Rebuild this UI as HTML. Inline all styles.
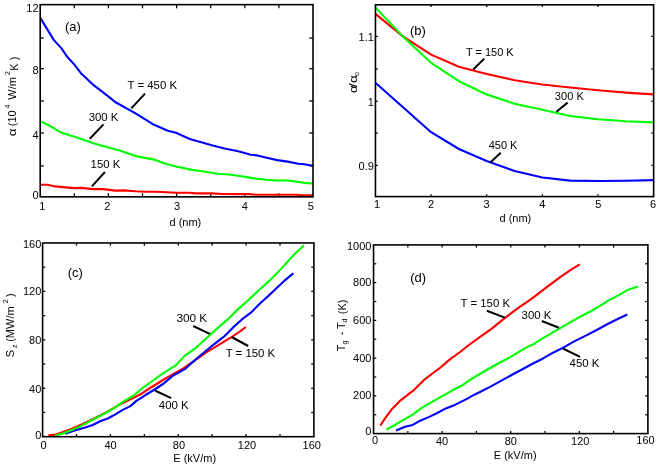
<!DOCTYPE html>
<html><head><meta charset="utf-8"><title>Figure</title>
<style>
html,body{margin:0;padding:0;background:#fff;}
body{width:664px;height:466px;overflow:hidden;}
body{position:relative;}
svg.t{position:absolute;left:0;top:0;will-change:transform;}
svg{display:block;font-family:"Liberation Sans", sans-serif;fill:#000;}
</style></head><body>
<svg width="664" height="466" viewBox="0 0 664 466">
<rect x="0" y="0" width="664" height="466" fill="#fff"/>
<defs><clipPath id="c0"><rect x="40.2" y="4.65" width="272.80" height="192.20"/></clipPath><clipPath id="c1"><rect x="375.45" y="4.8" width="278.20" height="191.80"/></clipPath><clipPath id="c2"><rect x="42.6" y="242.95" width="271.30" height="193.75"/></clipPath><clipPath id="c3"><rect x="373.55" y="244.9" width="274.35" height="188.70"/></clipPath></defs>
<line x1="74.30" y1="196.85" x2="74.30" y2="193.15" stroke="#000" stroke-width="1.25" stroke-linecap="butt"/>
<line x1="74.30" y1="4.65" x2="74.30" y2="8.35" stroke="#000" stroke-width="1.25" stroke-linecap="butt"/>
<line x1="108.40" y1="196.85" x2="108.40" y2="193.15" stroke="#000" stroke-width="1.25" stroke-linecap="butt"/>
<line x1="108.40" y1="4.65" x2="108.40" y2="8.35" stroke="#000" stroke-width="1.25" stroke-linecap="butt"/>
<line x1="142.50" y1="196.85" x2="142.50" y2="193.15" stroke="#000" stroke-width="1.25" stroke-linecap="butt"/>
<line x1="142.50" y1="4.65" x2="142.50" y2="8.35" stroke="#000" stroke-width="1.25" stroke-linecap="butt"/>
<line x1="176.60" y1="196.85" x2="176.60" y2="193.15" stroke="#000" stroke-width="1.25" stroke-linecap="butt"/>
<line x1="176.60" y1="4.65" x2="176.60" y2="8.35" stroke="#000" stroke-width="1.25" stroke-linecap="butt"/>
<line x1="210.70" y1="196.85" x2="210.70" y2="193.15" stroke="#000" stroke-width="1.25" stroke-linecap="butt"/>
<line x1="210.70" y1="4.65" x2="210.70" y2="8.35" stroke="#000" stroke-width="1.25" stroke-linecap="butt"/>
<line x1="244.80" y1="196.85" x2="244.80" y2="193.15" stroke="#000" stroke-width="1.25" stroke-linecap="butt"/>
<line x1="244.80" y1="4.65" x2="244.80" y2="8.35" stroke="#000" stroke-width="1.25" stroke-linecap="butt"/>
<line x1="278.90" y1="196.85" x2="278.90" y2="193.15" stroke="#000" stroke-width="1.25" stroke-linecap="butt"/>
<line x1="278.90" y1="4.65" x2="278.90" y2="8.35" stroke="#000" stroke-width="1.25" stroke-linecap="butt"/>
<line x1="40.20" y1="38.00" x2="43.90" y2="38.00" stroke="#000" stroke-width="1.25" stroke-linecap="butt"/>
<line x1="313.00" y1="38.00" x2="309.30" y2="38.00" stroke="#000" stroke-width="1.25" stroke-linecap="butt"/>
<line x1="40.20" y1="68.70" x2="43.90" y2="68.70" stroke="#000" stroke-width="1.25" stroke-linecap="butt"/>
<line x1="313.00" y1="68.70" x2="309.30" y2="68.70" stroke="#000" stroke-width="1.25" stroke-linecap="butt"/>
<line x1="40.20" y1="101.00" x2="43.90" y2="101.00" stroke="#000" stroke-width="1.25" stroke-linecap="butt"/>
<line x1="313.00" y1="101.00" x2="309.30" y2="101.00" stroke="#000" stroke-width="1.25" stroke-linecap="butt"/>
<line x1="40.20" y1="133.00" x2="43.90" y2="133.00" stroke="#000" stroke-width="1.25" stroke-linecap="butt"/>
<line x1="313.00" y1="133.00" x2="309.30" y2="133.00" stroke="#000" stroke-width="1.25" stroke-linecap="butt"/>
<line x1="40.20" y1="165.90" x2="43.90" y2="165.90" stroke="#000" stroke-width="1.25" stroke-linecap="butt"/>
<line x1="313.00" y1="165.90" x2="309.30" y2="165.90" stroke="#000" stroke-width="1.25" stroke-linecap="butt"/>
<line x1="431.09" y1="196.60" x2="431.09" y2="194.30" stroke="#000" stroke-width="1.25" stroke-linecap="butt"/>
<line x1="431.09" y1="4.80" x2="431.09" y2="7.10" stroke="#000" stroke-width="1.25" stroke-linecap="butt"/>
<line x1="486.73" y1="196.60" x2="486.73" y2="194.30" stroke="#000" stroke-width="1.25" stroke-linecap="butt"/>
<line x1="486.73" y1="4.80" x2="486.73" y2="7.10" stroke="#000" stroke-width="1.25" stroke-linecap="butt"/>
<line x1="542.37" y1="196.60" x2="542.37" y2="194.30" stroke="#000" stroke-width="1.25" stroke-linecap="butt"/>
<line x1="542.37" y1="4.80" x2="542.37" y2="7.10" stroke="#000" stroke-width="1.25" stroke-linecap="butt"/>
<line x1="598.01" y1="196.60" x2="598.01" y2="194.30" stroke="#000" stroke-width="1.25" stroke-linecap="butt"/>
<line x1="598.01" y1="4.80" x2="598.01" y2="7.10" stroke="#000" stroke-width="1.25" stroke-linecap="butt"/>
<line x1="375.45" y1="36.40" x2="377.75" y2="36.40" stroke="#000" stroke-width="1.25" stroke-linecap="butt"/>
<line x1="653.65" y1="36.40" x2="651.35" y2="36.40" stroke="#000" stroke-width="1.25" stroke-linecap="butt"/>
<line x1="375.45" y1="69.00" x2="377.75" y2="69.00" stroke="#000" stroke-width="1.25" stroke-linecap="butt"/>
<line x1="653.65" y1="69.00" x2="651.35" y2="69.00" stroke="#000" stroke-width="1.25" stroke-linecap="butt"/>
<line x1="375.45" y1="101.20" x2="377.75" y2="101.20" stroke="#000" stroke-width="1.25" stroke-linecap="butt"/>
<line x1="653.65" y1="101.20" x2="651.35" y2="101.20" stroke="#000" stroke-width="1.25" stroke-linecap="butt"/>
<line x1="375.45" y1="133.10" x2="377.75" y2="133.10" stroke="#000" stroke-width="1.25" stroke-linecap="butt"/>
<line x1="653.65" y1="133.10" x2="651.35" y2="133.10" stroke="#000" stroke-width="1.25" stroke-linecap="butt"/>
<line x1="375.45" y1="165.40" x2="377.75" y2="165.40" stroke="#000" stroke-width="1.25" stroke-linecap="butt"/>
<line x1="653.65" y1="165.40" x2="651.35" y2="165.40" stroke="#000" stroke-width="1.25" stroke-linecap="butt"/>
<line x1="76.51" y1="436.70" x2="76.51" y2="434.00" stroke="#000" stroke-width="1.25" stroke-linecap="butt"/>
<line x1="76.51" y1="242.95" x2="76.51" y2="245.65" stroke="#000" stroke-width="1.25" stroke-linecap="butt"/>
<line x1="110.42" y1="436.70" x2="110.42" y2="434.00" stroke="#000" stroke-width="1.25" stroke-linecap="butt"/>
<line x1="110.42" y1="242.95" x2="110.42" y2="245.65" stroke="#000" stroke-width="1.25" stroke-linecap="butt"/>
<line x1="144.34" y1="436.70" x2="144.34" y2="434.00" stroke="#000" stroke-width="1.25" stroke-linecap="butt"/>
<line x1="144.34" y1="242.95" x2="144.34" y2="245.65" stroke="#000" stroke-width="1.25" stroke-linecap="butt"/>
<line x1="178.25" y1="436.70" x2="178.25" y2="434.00" stroke="#000" stroke-width="1.25" stroke-linecap="butt"/>
<line x1="178.25" y1="242.95" x2="178.25" y2="245.65" stroke="#000" stroke-width="1.25" stroke-linecap="butt"/>
<line x1="212.16" y1="436.70" x2="212.16" y2="434.00" stroke="#000" stroke-width="1.25" stroke-linecap="butt"/>
<line x1="212.16" y1="242.95" x2="212.16" y2="245.65" stroke="#000" stroke-width="1.25" stroke-linecap="butt"/>
<line x1="246.07" y1="436.70" x2="246.07" y2="434.00" stroke="#000" stroke-width="1.25" stroke-linecap="butt"/>
<line x1="246.07" y1="242.95" x2="246.07" y2="245.65" stroke="#000" stroke-width="1.25" stroke-linecap="butt"/>
<line x1="279.99" y1="436.70" x2="279.99" y2="434.00" stroke="#000" stroke-width="1.25" stroke-linecap="butt"/>
<line x1="279.99" y1="242.95" x2="279.99" y2="245.65" stroke="#000" stroke-width="1.25" stroke-linecap="butt"/>
<line x1="42.60" y1="412.48" x2="45.30" y2="412.48" stroke="#000" stroke-width="1.25" stroke-linecap="butt"/>
<line x1="313.90" y1="412.48" x2="311.20" y2="412.48" stroke="#000" stroke-width="1.25" stroke-linecap="butt"/>
<line x1="42.60" y1="388.26" x2="45.30" y2="388.26" stroke="#000" stroke-width="1.25" stroke-linecap="butt"/>
<line x1="313.90" y1="388.26" x2="311.20" y2="388.26" stroke="#000" stroke-width="1.25" stroke-linecap="butt"/>
<line x1="42.60" y1="364.04" x2="45.30" y2="364.04" stroke="#000" stroke-width="1.25" stroke-linecap="butt"/>
<line x1="313.90" y1="364.04" x2="311.20" y2="364.04" stroke="#000" stroke-width="1.25" stroke-linecap="butt"/>
<line x1="42.60" y1="339.82" x2="45.30" y2="339.82" stroke="#000" stroke-width="1.25" stroke-linecap="butt"/>
<line x1="313.90" y1="339.82" x2="311.20" y2="339.82" stroke="#000" stroke-width="1.25" stroke-linecap="butt"/>
<line x1="42.60" y1="315.61" x2="45.30" y2="315.61" stroke="#000" stroke-width="1.25" stroke-linecap="butt"/>
<line x1="313.90" y1="315.61" x2="311.20" y2="315.61" stroke="#000" stroke-width="1.25" stroke-linecap="butt"/>
<line x1="42.60" y1="291.39" x2="45.30" y2="291.39" stroke="#000" stroke-width="1.25" stroke-linecap="butt"/>
<line x1="313.90" y1="291.39" x2="311.20" y2="291.39" stroke="#000" stroke-width="1.25" stroke-linecap="butt"/>
<line x1="42.60" y1="267.17" x2="45.30" y2="267.17" stroke="#000" stroke-width="1.25" stroke-linecap="butt"/>
<line x1="313.90" y1="267.17" x2="311.20" y2="267.17" stroke="#000" stroke-width="1.25" stroke-linecap="butt"/>
<line x1="407.84" y1="433.60" x2="407.84" y2="430.90" stroke="#000" stroke-width="1.25" stroke-linecap="butt"/>
<line x1="407.84" y1="244.90" x2="407.84" y2="247.60" stroke="#000" stroke-width="1.25" stroke-linecap="butt"/>
<line x1="442.14" y1="433.60" x2="442.14" y2="430.90" stroke="#000" stroke-width="1.25" stroke-linecap="butt"/>
<line x1="442.14" y1="244.90" x2="442.14" y2="247.60" stroke="#000" stroke-width="1.25" stroke-linecap="butt"/>
<line x1="476.43" y1="433.60" x2="476.43" y2="430.90" stroke="#000" stroke-width="1.25" stroke-linecap="butt"/>
<line x1="476.43" y1="244.90" x2="476.43" y2="247.60" stroke="#000" stroke-width="1.25" stroke-linecap="butt"/>
<line x1="510.73" y1="433.60" x2="510.73" y2="430.90" stroke="#000" stroke-width="1.25" stroke-linecap="butt"/>
<line x1="510.73" y1="244.90" x2="510.73" y2="247.60" stroke="#000" stroke-width="1.25" stroke-linecap="butt"/>
<line x1="545.02" y1="433.60" x2="545.02" y2="430.90" stroke="#000" stroke-width="1.25" stroke-linecap="butt"/>
<line x1="545.02" y1="244.90" x2="545.02" y2="247.60" stroke="#000" stroke-width="1.25" stroke-linecap="butt"/>
<line x1="579.31" y1="433.60" x2="579.31" y2="430.90" stroke="#000" stroke-width="1.25" stroke-linecap="butt"/>
<line x1="579.31" y1="244.90" x2="579.31" y2="247.60" stroke="#000" stroke-width="1.25" stroke-linecap="butt"/>
<line x1="613.61" y1="433.60" x2="613.61" y2="430.90" stroke="#000" stroke-width="1.25" stroke-linecap="butt"/>
<line x1="613.61" y1="244.90" x2="613.61" y2="247.60" stroke="#000" stroke-width="1.25" stroke-linecap="butt"/>
<line x1="373.55" y1="414.73" x2="376.25" y2="414.73" stroke="#000" stroke-width="1.25" stroke-linecap="butt"/>
<line x1="647.90" y1="414.73" x2="645.20" y2="414.73" stroke="#000" stroke-width="1.25" stroke-linecap="butt"/>
<line x1="373.55" y1="395.86" x2="376.25" y2="395.86" stroke="#000" stroke-width="1.25" stroke-linecap="butt"/>
<line x1="647.90" y1="395.86" x2="645.20" y2="395.86" stroke="#000" stroke-width="1.25" stroke-linecap="butt"/>
<line x1="373.55" y1="376.99" x2="376.25" y2="376.99" stroke="#000" stroke-width="1.25" stroke-linecap="butt"/>
<line x1="647.90" y1="376.99" x2="645.20" y2="376.99" stroke="#000" stroke-width="1.25" stroke-linecap="butt"/>
<line x1="373.55" y1="358.12" x2="376.25" y2="358.12" stroke="#000" stroke-width="1.25" stroke-linecap="butt"/>
<line x1="647.90" y1="358.12" x2="645.20" y2="358.12" stroke="#000" stroke-width="1.25" stroke-linecap="butt"/>
<line x1="373.55" y1="339.25" x2="376.25" y2="339.25" stroke="#000" stroke-width="1.25" stroke-linecap="butt"/>
<line x1="647.90" y1="339.25" x2="645.20" y2="339.25" stroke="#000" stroke-width="1.25" stroke-linecap="butt"/>
<line x1="373.55" y1="320.38" x2="376.25" y2="320.38" stroke="#000" stroke-width="1.25" stroke-linecap="butt"/>
<line x1="647.90" y1="320.38" x2="645.20" y2="320.38" stroke="#000" stroke-width="1.25" stroke-linecap="butt"/>
<line x1="373.55" y1="301.51" x2="376.25" y2="301.51" stroke="#000" stroke-width="1.25" stroke-linecap="butt"/>
<line x1="647.90" y1="301.51" x2="645.20" y2="301.51" stroke="#000" stroke-width="1.25" stroke-linecap="butt"/>
<line x1="373.55" y1="282.64" x2="376.25" y2="282.64" stroke="#000" stroke-width="1.25" stroke-linecap="butt"/>
<line x1="647.90" y1="282.64" x2="645.20" y2="282.64" stroke="#000" stroke-width="1.25" stroke-linecap="butt"/>
<line x1="373.55" y1="263.77" x2="376.25" y2="263.77" stroke="#000" stroke-width="1.25" stroke-linecap="butt"/>
<line x1="647.90" y1="263.77" x2="645.20" y2="263.77" stroke="#000" stroke-width="1.25" stroke-linecap="butt"/>
<g clip-path="url(#c0)"><polyline points="40.2,184.7 47.6,184.7 55.0,186.4 74.0,188.1 81.3,187.9 92.9,189.1 103.5,189.1 115.1,190.6 124.6,190.4 135.1,191.2 145.6,191.7 156.2,191.7 166.7,192.3 176.0,192.7 188.7,192.8 197.0,193.4 211.8,193.4 222.4,194.0 250.0,194.1 256.0,194.7 296.0,194.8 302.5,195.3 313.0,195.3" fill="none" stroke="#ff0000" stroke-width="2.1" stroke-linejoin="round" stroke-linecap="butt"/><polyline points="40.2,121.2 48.7,125.2 61.3,132.6 78.2,137.9 95.0,143.8 120.3,150.8 137.2,156.4 154.1,159.6 164.6,163.4 176.0,166.5 190.8,169.6 205.5,171.7 218.2,173.8 230.8,174.8 241.4,176.3 254.0,178.4 266.7,179.7 277.2,180.5 285.6,180.3 294.0,181.2 304.6,182.9 313.0,183.5" fill="none" stroke="#00ff00" stroke-width="2.1" stroke-linejoin="round" stroke-linecap="butt"/><polyline points="40.2,17.9 53.9,40.1 61.3,48.1 67.6,57.3 74.6,64.9 80.9,73.2 94.0,85.4 110.8,98.4 115.1,102.0 135.1,113.2 154.1,124.8 167.8,130.7 176.0,132.7 189.7,139.0 201.3,142.2 211.8,145.3 224.5,148.5 238.2,151.2 250.8,154.8 257.2,155.4 264.6,157.3 277.2,160.1 287.7,161.6 298.3,163.7 304.6,164.3 313.0,165.8" fill="none" stroke="#0000ff" stroke-width="2.1" stroke-linejoin="round" stroke-linecap="butt"/></g>
<g clip-path="url(#c1)"><polyline points="375.4,82.8 403.3,107.5 431.1,132.2 458.9,149.0 486.7,161.0 514.5,171.1 542.4,177.5 570.2,180.6 598.0,181.0 625.8,180.8 653.6,180.1" fill="none" stroke="#0000ff" stroke-width="2.1" stroke-linejoin="round" stroke-linecap="butt"/><polyline points="375.4,13.9 403.3,36.6 431.1,54.6 458.9,66.7 486.7,74.0 514.5,80.2 542.4,84.5 570.2,87.5 598.0,90.3 625.8,92.6 653.6,94.4" fill="none" stroke="#ff0000" stroke-width="2.1" stroke-linejoin="round" stroke-linecap="butt"/><polyline points="375.4,7.5 403.3,36.9 431.1,62.8 458.9,81.2 486.7,94.5 514.5,103.7 542.4,109.8 570.2,116.0 598.0,119.2 625.8,121.2 653.6,122.4" fill="none" stroke="#00ff00" stroke-width="2.1" stroke-linejoin="round" stroke-linecap="butt"/></g>
<g clip-path="url(#c2)"><polyline points="48.3,435.2 53.6,434.9 59.6,433.2 70.1,429.4 82.2,424.2 91.2,419.9 100.2,415.5 109.3,410.7 118.3,405.3 127.3,400.9 133.4,397.9 139.6,394.8 150.1,388.0 162.2,380.5 172.7,374.4 183.3,368.4 195.3,360.1 205.8,352.6 213.4,348.1 221.1,343.3 231.6,337.2 239.2,332.0 245.9,327.0" fill="none" stroke="#ff0000" stroke-width="2.1" stroke-linejoin="round" stroke-linecap="butt"/><polyline points="65.2,433.8 74.6,430.6 85.2,427.6 92.7,425.0 100.2,421.2 107.8,418.5 115.3,414.4 122.8,409.9 130.4,406.1 136.4,400.9 140.0,398.6 147.1,394.0 154.6,389.5 163.7,383.5 172.7,375.9 184.8,369.2 192.3,362.4 201.3,354.8 210.4,347.2 220.0,339.7 224.1,336.5 233.1,327.4 242.2,319.2 251.2,312.4 260.2,303.3 269.3,295.1 278.3,286.6 284.2,280.9 293.3,273.4" fill="none" stroke="#0000ff" stroke-width="2.1" stroke-linejoin="round" stroke-linecap="butt"/><polyline points="55.1,435.5 62.6,433.6 70.1,430.7 82.2,425.4 91.2,420.5 100.2,415.9 109.3,411.0 118.3,405.4 124.3,400.9 130.4,397.4 133.6,395.5 142.6,388.0 153.1,380.5 163.7,372.9 175.7,365.4 184.8,355.6 195.3,348.3 204.3,340.3 211.9,333.1 218.1,327.6 227.1,319.9 236.1,310.9 245.2,302.9 254.2,294.5 263.3,286.2 269.2,280.9 278.2,271.9 287.2,262.1 294.8,253.8 304.1,245.2" fill="none" stroke="#00ff00" stroke-width="2.1" stroke-linejoin="round" stroke-linecap="butt"/></g>
<g clip-path="url(#c3)"><polyline points="380.3,425.5 385.6,417.7 391.6,409.4 400.6,400.3 406.6,395.7 414.2,389.8 424.7,379.3 433.7,372.5 439.0,368.7 449.6,359.6 460.1,352.0 468.2,345.5 479.8,337.2 491.4,328.9 504.7,318.1 517.9,308.2 531.2,299.1 545.2,288.4 560.2,277.1 572.3,268.8 579.8,264.4" fill="none" stroke="#ff0000" stroke-width="2.1" stroke-linejoin="round" stroke-linecap="butt"/><polyline points="386.3,429.7 393.1,426.0 402.1,420.7 412.7,414.7 421.7,407.9 432.2,401.9 442.8,395.9 453.3,389.8 462.4,385.3 469.2,380.3 479.7,374.0 490.2,368.0 500.8,362.0 509.8,357.4 517.3,352.9 526.0,347.6 533.6,344.2 542.6,338.4 551.6,333.1 560.7,327.9 569.7,322.6 580.2,316.7 590.8,311.3 601.3,305.2 607.7,300.9 618.2,295.4 628.8,289.4 638.1,286.4" fill="none" stroke="#00ff00" stroke-width="2.1" stroke-linejoin="round" stroke-linecap="butt"/><polyline points="396.1,430.5 405.1,426.7 412.7,424.9 420.2,420.7 429.2,416.9 436.8,413.2 445.8,408.4 454.8,404.9 462.4,401.1 468.4,398.1 472.0,395.9 480.0,392.0 491.0,386.4 502.3,380.2 514.3,373.5 523.4,368.7 532.0,364.0 542.6,358.7 553.1,352.7 563.7,347.4 574.2,341.4 584.8,336.1 595.3,330.7 607.7,324.0 618.2,318.7 627.3,314.5" fill="none" stroke="#0000ff" stroke-width="2.1" stroke-linejoin="round" stroke-linecap="butt"/></g>
<rect x="40.2" y="4.65" width="272.8" height="192.2" fill="none" stroke="#000" stroke-width="1.6"/>
<line x1="145.00" y1="93.60" x2="131.30" y2="108.40" stroke="#000" stroke-width="2" stroke-linecap="butt"/>
<line x1="103.50" y1="124.40" x2="89.80" y2="138.70" stroke="#000" stroke-width="2" stroke-linecap="butt"/>
<line x1="104.90" y1="172.00" x2="91.90" y2="186.40" stroke="#000" stroke-width="2" stroke-linecap="butt"/>
<rect x="375.45" y="4.8" width="278.2" height="191.79999999999998" fill="none" stroke="#000" stroke-width="1.6"/>
<line x1="484.30" y1="58.60" x2="473.20" y2="69.50" stroke="#000" stroke-width="2" stroke-linecap="butt"/>
<line x1="567.60" y1="102.60" x2="556.40" y2="111.70" stroke="#000" stroke-width="2" stroke-linecap="butt"/>
<line x1="500.70" y1="152.80" x2="490.00" y2="162.70" stroke="#000" stroke-width="2" stroke-linecap="butt"/>
<rect x="42.6" y="242.95" width="271.29999999999995" height="193.75" fill="none" stroke="#000" stroke-width="1.6"/>
<line x1="193.20" y1="326.00" x2="209.80" y2="333.80" stroke="#000" stroke-width="2" stroke-linecap="butt"/>
<line x1="231.60" y1="337.00" x2="248.20" y2="346.00" stroke="#000" stroke-width="2" stroke-linecap="butt"/>
<line x1="154.90" y1="390.50" x2="171.20" y2="398.20" stroke="#000" stroke-width="2" stroke-linecap="butt"/>
<rect x="373.55" y="244.9" width="274.34999999999997" height="188.70000000000002" fill="none" stroke="#000" stroke-width="1.6"/>
<line x1="342.30" y1="334.40" x2="342.30" y2="332.20" stroke="#000" stroke-width="1.1" stroke-linecap="butt"/>
<line x1="486.80" y1="310.80" x2="504.90" y2="317.60" stroke="#000" stroke-width="2" stroke-linecap="butt"/>
<line x1="541.80" y1="321.00" x2="558.90" y2="327.80" stroke="#000" stroke-width="2" stroke-linecap="butt"/>
<line x1="562.90" y1="348.50" x2="580.10" y2="356.90" stroke="#000" stroke-width="2" stroke-linecap="butt"/>
</svg>
<svg class="t" width="664" height="466" viewBox="0 0 664 466">
<text x="42.40" y="209.80" font-size="11" text-anchor="middle" >1</text>
<text x="107.40" y="209.80" font-size="11" text-anchor="middle" >2</text>
<text x="177.10" y="209.80" font-size="11" text-anchor="middle" >3</text>
<text x="244.90" y="209.80" font-size="11" text-anchor="middle" >4</text>
<text x="310.70" y="209.80" font-size="11" text-anchor="middle" >5</text>
<text x="38.60" y="198.60" font-size="11" text-anchor="end" >0</text>
<text x="38.60" y="139.00" font-size="11" text-anchor="end" >4</text>
<text x="38.60" y="73.90" font-size="11" text-anchor="end" >8</text>
<text x="38.60" y="12.00" font-size="11" text-anchor="end" >12</text>
<text x="169.50" y="225.70" font-size="11" text-anchor="start" >d (nm)</text>
<g transform="translate(16.30,136.20) rotate(-90)"><text transform="translate(-0.10,0.00) scale(1.22,1)" font-size="11">α</text><text x="10.00" y="0.00" font-size="11">(10</text><text x="27.60" y="-5.90" font-size="7">4</text><text x="36.50" y="0.00" font-size="11">W/m</text><text x="61.10" y="-5.90" font-size="7">2</text><text x="65.50" y="2.10" font-size="11">K</text><text x="76.00" y="2.10" font-size="11">)</text></g>
<text x="64.90" y="31.20" font-size="13" text-anchor="start" >(a)</text>
<text x="127.50" y="89.00" font-size="11.4" text-anchor="start" >T = 450 K</text>
<text x="88.70" y="120.70" font-size="11.4" text-anchor="start" >300 K</text>
<text x="90.60" y="167.60" font-size="11.4" text-anchor="start" >150 K</text>
<text x="377.10" y="208.10" font-size="11" text-anchor="middle" >1</text>
<text x="431.00" y="208.10" font-size="11" text-anchor="middle" >2</text>
<text x="486.60" y="208.10" font-size="11" text-anchor="middle" >3</text>
<text x="542.30" y="208.10" font-size="11" text-anchor="middle" >4</text>
<text x="598.30" y="208.10" font-size="11" text-anchor="middle" >5</text>
<text x="653.05" y="208.10" font-size="11" text-anchor="middle" >6</text>
<text x="373.90" y="41.10" font-size="11" text-anchor="end" >1.1</text>
<text x="373.90" y="105.90" font-size="11" text-anchor="end" >1</text>
<text x="373.90" y="170.10" font-size="11" text-anchor="end" >0.9</text>
<text x="499.50" y="221.90" font-size="11" text-anchor="start" >d (nm)</text>
<g transform="translate(357.20,92.70) rotate(-90)"><text transform="translate(-0.20,0.00) scale(1.2,1)" font-size="11">α</text><text transform="translate(5.50,0.00) scale(1.3,1)" font-size="11">/</text><text transform="translate(9.70,0.00) scale(1.22,1)" font-size="11">α</text><text x="16.50" y="1.70" font-size="7.5">o</text></g>
<text x="410.00" y="35.20" font-size="13" text-anchor="start" >(b)</text>
<text x="465.90" y="55.50" font-size="11.0" text-anchor="start" >T = 150 K</text>
<text x="554.80" y="100.20" font-size="11.1" text-anchor="start" >300 K</text>
<text x="488.70" y="149.30" font-size="11.0" text-anchor="start" >450 K</text>
<text x="43.60" y="448.80" font-size="11" text-anchor="middle" >0</text>
<text x="110.50" y="448.80" font-size="11" text-anchor="middle" >40</text>
<text x="178.90" y="448.80" font-size="11" text-anchor="middle" >80</text>
<text x="246.95" y="448.80" font-size="11" text-anchor="middle" >120</text>
<text x="311.70" y="448.80" font-size="11" text-anchor="middle" >160</text>
<text x="41.30" y="439.10" font-size="11" text-anchor="end" >0</text>
<text x="41.30" y="392.80" font-size="11" text-anchor="end" >40</text>
<text x="41.30" y="344.20" font-size="11" text-anchor="end" >80</text>
<text x="41.30" y="295.00" font-size="11" text-anchor="end" >120</text>
<text x="41.30" y="248.10" font-size="11" text-anchor="end" >160</text>
<text x="173.30" y="461.50" font-size="11" text-anchor="start" >E (kV/m)</text>
<g transform="translate(14.00,357.20) rotate(-90)"><text x="0.00" y="0.00" font-size="11">S</text><text x="9.20" y="3.00" font-size="7">z</text><text x="15.40" y="0.00" font-size="11">(MW/m</text><text x="54.00" y="-5.90" font-size="7">2</text><text x="60.20" y="0.00" font-size="11">)</text></g>
<text x="67.70" y="277.00" font-size="13" text-anchor="start" >(c)</text>
<text x="176.40" y="321.70" font-size="11.8" text-anchor="start" >300 K</text>
<text x="225.70" y="357.10" font-size="11.4" text-anchor="start" >T = 150 K</text>
<text x="158.80" y="409.30" font-size="11.4" text-anchor="start" >400 K</text>
<text x="375.00" y="444.40" font-size="11" text-anchor="middle" >0</text>
<text x="442.00" y="444.60" font-size="11" text-anchor="middle" >40</text>
<text x="510.80" y="444.60" font-size="11" text-anchor="middle" >80</text>
<text x="580.20" y="444.60" font-size="11" text-anchor="middle" >120</text>
<text x="645.50" y="443.80" font-size="11" text-anchor="middle" >160</text>
<text x="371.40" y="435.20" font-size="11" text-anchor="end" >0</text>
<text x="371.40" y="399.20" font-size="11" text-anchor="end" >200</text>
<text x="371.40" y="361.50" font-size="11" text-anchor="end" >400</text>
<text x="371.40" y="323.70" font-size="11" text-anchor="end" >600</text>
<text x="371.40" y="285.90" font-size="11" text-anchor="end" >800</text>
<text x="371.40" y="250.30" font-size="11" text-anchor="end" >1000</text>
<text x="493.80" y="459.00" font-size="11" text-anchor="start" >E (kV/m)</text>
<g transform="translate(344.90,351.20) rotate(-90)"><text x="0.00" y="0.00" font-size="11">T</text><text x="6.70" y="2.40" font-size="7">g</text><text x="22.30" y="0.00" font-size="11">T</text><text x="28.80" y="2.40" font-size="7">d</text><text x="37.00" y="0.60" font-size="11">(K)</text></g>
<text x="410.20" y="281.50" font-size="13" text-anchor="start" >(d)</text>
<text x="460.50" y="306.90" font-size="11.4" text-anchor="start" >T = 150 K</text>
<text x="521.60" y="318.70" font-size="11.4" text-anchor="start" >300 K</text>
<text x="569.60" y="366.90" font-size="11.4" text-anchor="start" >450 K</text>
</svg>
</body></html>
